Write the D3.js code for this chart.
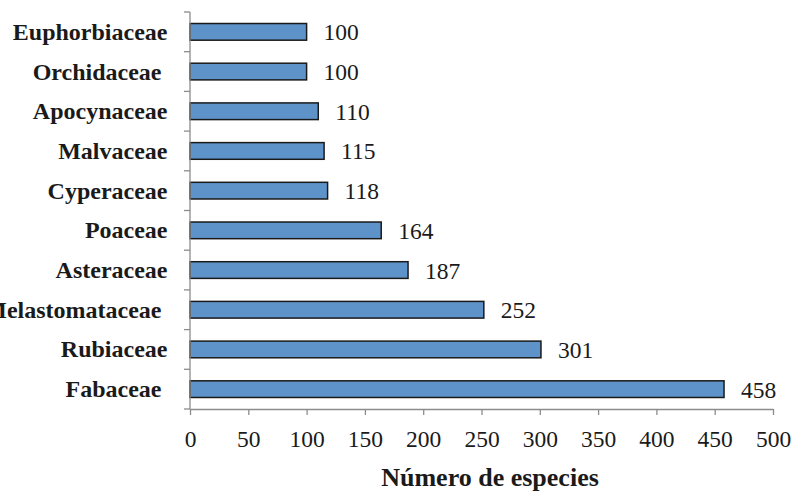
<!DOCTYPE html>
<html>
<head>
<meta charset="utf-8">
<script src="https://cdn.jsdelivr.net/npm/d3@7"></script>
<style>
  html, body { margin: 0; padding: 0; background: #fff; }
  svg text { font-family: "Liberation Serif", "Times New Roman", serif; }
</style>
</head>
<body>
<svg id="chart" width="792" height="491"></svg>
<script>
// Families, top to bottom, and their species counts
const families = ["Euphorbiaceae", "Orchidaceae ", "Apocynaceae", "Malvaceae", "Cyperaceae",
                  "Poaceae", "Asteraceae", "Melastomataceae ", "Rubiaceae", "Fabaceae "];
const species = [100, 100, 110, 115, 118, 164, 187, 252, 301, 458];
const xTicks = [0, 50, 100, 150, 200, 250, 300, 350, 400, 450, 500];
const xTitle = "Número de especies";

const svg = d3.select("#chart");
const plotTop = 12, plotBottom = 409;
const fontSize = 23.5;
const ink = "#1a1a1a";
const axisColor = "#8c8c8c";

const x = d3.scaleLinear().domain([0, 500]).range([190, 773]);
const y = d3.scaleBand().domain(d3.range(families.length))
  .range([plotTop, plotBottom]).paddingInner(0.58).paddingOuter(0.29);

// Bars
svg.append("g").selectAll("rect").data(species).join("rect")
  .attr("x", x(0))
  .attr("y", (d, i) => y(i))
  .attr("width", d => x(d) - x(0))
  .attr("height", y.bandwidth())
  .attr("fill", "#5e93c9")
  .attr("stroke", ink)
  .attr("stroke-width", 1.5);

// Value labels
svg.append("g").selectAll("text").data(species).join("text")
  .attr("x", d => x(d) + 17)
  .attr("y", (d, i) => y(i) + y.bandwidth() / 2 + 8.5)
  .attr("font-size", fontSize)
  .attr("fill", ink)
  .text(d => d);

// X axis
const xAxis = svg.append("g")
  .attr("transform", `translate(0,${plotBottom})`)
  .call(d3.axisBottom(x).tickValues(xTicks).tickSize(6).tickSizeOuter(0).tickPadding(0));
xAxis.select(".domain").attr("stroke", axisColor).attr("stroke-width", 1.3);
xAxis.selectAll(".tick line").attr("stroke", axisColor).attr("stroke-width", 1.3);
xAxis.selectAll(".tick text")
  .attr("y", 38).attr("dy", null)
  .attr("font-size", fontSize).attr("fill", ink);

// Y axis: category boundaries with outward ticks
const step = (plotBottom - plotTop) / families.length;
const bounds = d3.range(families.length + 1).map(i => plotTop + i * step);
const yAxisG = svg.append("g");
yAxisG.append("line")
  .attr("x1", x(0)).attr("x2", x(0))
  .attr("y1", plotTop).attr("y2", plotBottom)
  .attr("stroke", axisColor).attr("stroke-width", 1.3);
yAxisG.selectAll("line.tick").data(bounds).join("line")
  .attr("class", "tick")
  .attr("x1", x(0) - 6).attr("x2", x(0))
  .attr("y1", d => d).attr("y2", d => d)
  .attr("stroke", axisColor).attr("stroke-width", 1.3);

// Category labels (right-aligned against the axis; the longest runs past the left edge)
svg.append("g").selectAll("text").data(families).join("text")
  .attr("x", 167.5)
  .attr("y", (d, i) => y(i) + y.bandwidth() / 2 + 8)
  .attr("text-anchor", "end")
  .attr("font-size", 24)
  .attr("font-weight", "bold")
  .attr("fill", ink)
  .attr("xml:space", "preserve")
  .style("white-space", "pre")
  .text(d => d);

// Axis title
svg.append("text")
  .attr("x", 490)
  .attr("y", 486)
  .attr("text-anchor", "middle")
  .attr("font-size", 26)
  .attr("font-weight", "bold")
  .attr("fill", ink)
  .text(xTitle);
</script>
</body>
</html>
